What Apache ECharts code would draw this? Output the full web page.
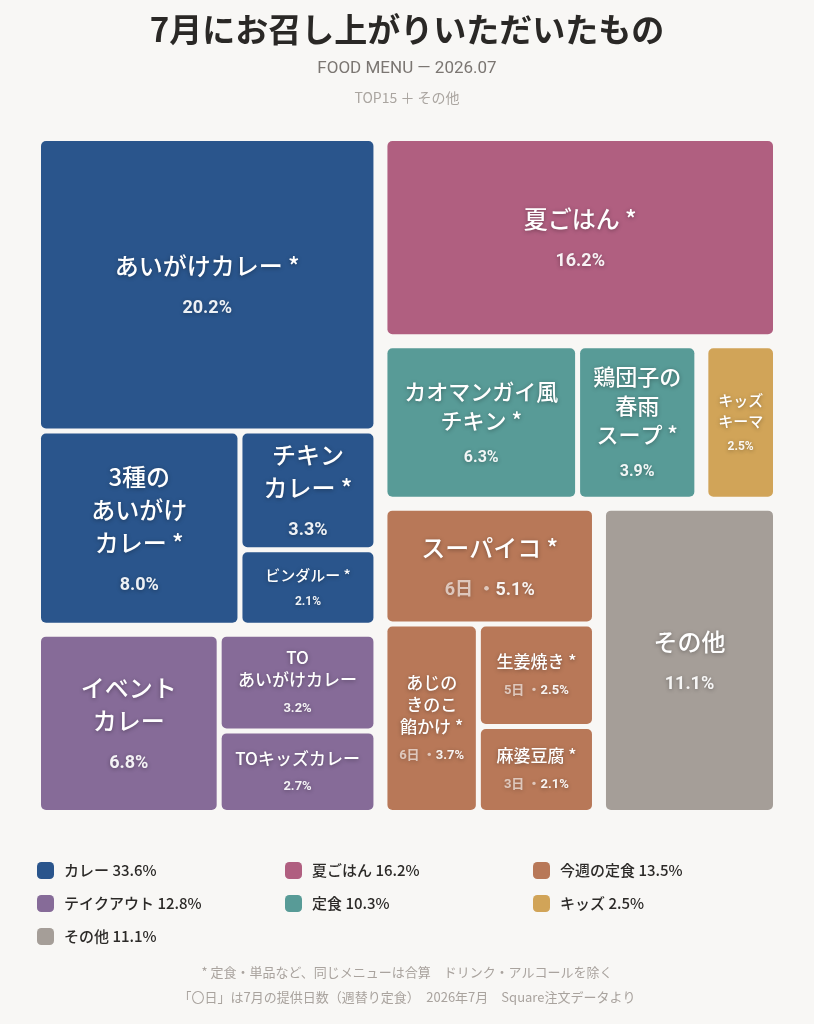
<!DOCTYPE html>
<html>
<head>
<meta charset="utf-8">
<title>7月にお召し上がりいただいたもの</title>
<script src="https://cdn.jsdelivr.net/npm/echarts@6/dist/echarts.min.js"></script>
<style>
html, body { margin: 0; padding: 0; background: #f8f7f5; }
#main { width: 814px; height: 1024px; }
</style>
</head>
<body>
<div id="main"></div>
<script>
// menu groups, in legend order
var groupNames  = ['カレー', '夏ごはん', '今週の定食', 'テイクアウト', '定食', 'キッズ', 'その他'];
var groupShares = [33.6, 16.2, 13.5, 12.8, 10.3, 2.5, 11.1];
var groupColors = ['#2a558c', '#b05f80', '#b87858', '#866b98', '#589b97', '#d1a458', '#a59e98'];

// top 15 items + その他
var itemNames  = ['あいがけカレー', '3種のあいがけカレー', 'チキンカレー', 'ビンダルー',
                  '夏ごはん',
                  'スーパイコ', 'あじのきのこ餡かけ', '生姜焼き', '麻婆豆腐',
                  'イベントカレー', 'TOあいがけカレー', 'TOキッズカレー',
                  'カオマンガイ風チキン', '鶏団子の春雨スープ',
                  'キッズキーマ',
                  'その他'];
var itemLabels = ['あいがけカレー *', '3種の\nあいがけ\nカレー *', 'チキン\nカレー *', 'ビンダルー *',
                  '夏ごはん *',
                  'スーパイコ *', 'あじの\nきのこ\n餡かけ *', '生姜焼き *', '麻婆豆腐 *',
                  'イベント\nカレー', 'TO\nあいがけカレー', 'TOキッズカレー',
                  'カオマンガイ風\nチキン *', '鶏団子の\n春雨\nスープ *',
                  'キッズ\nキーマ',
                  'その他'];
var itemShares = [20.2, 8.0, 3.3, 2.1, 16.2, 5.1, 3.7, 2.5, 2.1, 6.8, 3.2, 2.7, 6.3, 3.9, 2.5, 11.1];
var itemDays   = [null, null, null, null, null, 6, 6, 5, 3, null, null, null, null, null, null, null];
var itemGroups = ['カレー', 'カレー', 'カレー', 'カレー',
                  '夏ごはん',
                  '今週の定食', '今週の定食', '今週の定食', '今週の定食',
                  'テイクアウト', 'テイクアウト', 'テイクアウト',
                  '定食', '定食',
                  'キッズ',
                  'その他'];

// how groups are nested (left column / right column with rows)
var blocks = [['カレー', 'テイクアウト'], ['夏ごはん', ['定食', 'キッズ'], ['今週の定食', 'その他']]];

var footNotes = ['* 定食・単品など、同じメニューは合算　ドリンク・アルコールを除く',
                 '「〇日」は7月の提供日数（週替り定食）　2026年7月　Square注文データより'];

// label size class per item (default l)
var labelSize = {
	'ビンダルー': 'xs', 'キッズキーマ': 'xs',
	'あじのきのこ餡かけ': 's', '生姜焼き': 's', '麻婆豆腐': 's',
	'TOあいがけカレー': 's', 'TOキッズカレー': 's',
	'カオマンガイ風チキン': 'm', '鶏団子の春雨スープ': 'm'
};

var JP = '"Noto Sans CJK JP", sans-serif';
var NUM = 'Roboto, "Noto Sans CJK JP", sans-serif';
var BG = '#f8f7f5';

function leaf(i){
	var g = groupNames.indexOf(itemGroups[i]);
	return {
		name: itemNames[i],
		value: itemShares[i],
		lbl: itemLabels[i],
		days: itemDays[i],
		size: labelSize[itemNames[i]] || 'l',
		itemStyle: { color: groupColors[g], borderRadius: 5, borderWidth: 0 }
	};
}

function groupNode(name){
	var children = [];
	itemGroups.forEach(function(gn, i){
		if(gn == name){
			children.push(leaf(i));
		}
	});
	return {
		name: name,
		children: children,
		itemStyle: { gapWidth: 5, borderWidth: 0, borderColor: 'rgba(0,0,0,0)' }
	};
}

function block(b){
	if(typeof b == 'string'){
		return groupNode(b);
	}
	return {
		name: '',
		children: b.map(block),
		itemStyle: { gapWidth: 14, borderWidth: 0, borderColor: 'rgba(0,0,0,0)' }
	};
}

var treeData = blocks.map(block);

var sizes = {
	l:  { n: 24, nl: 33, g: 15, p: 18, pl: 22 },
	m:  { n: 22, nl: 29, g: 13, p: 16, pl: 20 },
	s:  { n: 17, nl: 22, g: 9,  p: 13, pl: 18 },
	xs: { n: 15, nl: 21, g: 8,  p: 12, pl: 16 }
};
var rich = {};
Object.keys(sizes).forEach(function(k){
	var s = sizes[k];
	rich['n_' + k] = { fontFamily: JP, fontSize: s.n, lineHeight: s.nl, fontWeight: 500, color: '#ffffff' };
	rich['g_' + k] = { fontSize: 1, lineHeight: s.g };
	rich['p_' + k] = { fontFamily: NUM, fontSize: s.p, lineHeight: s.pl, fontWeight: 'bold', color: 'rgba(255,255,255,0.92)' };
	rich['d_' + k] = { fontFamily: NUM, fontSize: s.p, lineHeight: s.pl, fontWeight: 'bold', color: 'rgba(255,255,255,0.62)' };
});

function labelText(params){
	var d = params.data;
	if(!d || d.lbl == null){
		return '';
	}
	var k = d.size;
	var lines = d.lbl.split('\n').map(function(t){
		return '{n_' + k + '|' + t + '}';
	});
	var pct = '{p_' + k + '|' + d.value.toFixed(1) + '%}';
	if(d.days){
		pct = '{d_' + k + '|' + d.days + '日 ・}' + pct;
	}
	return lines.join('\n') + '\n{g_' + k + '| }\n' + pct;
}

// height of the rich text block, from the line heights of its tags
function textHeight(text){
	if(!text){
		return 0;
	}
	var h = 0;
	text.split('\n').forEach(function(line){
		var lh = 0;
		line.replace(/\{(\w+)\|/g, function(m, tag){
			if(rich[tag] && rich[tag].lineHeight > lh){
				lh = rich[tag].lineHeight;
			}
			return m;
		});
		h += lh;
	});
	return h;
}

var myChart = echarts.init(document.getElementById('main'));
var option = {
	backgroundColor: BG,
	animation: false,
	title: [
		{
			text: '7月にお召し上がりいただいたもの', left: 'center', top: 13, padding: 0,
			textStyle: { fontFamily: JP, fontSize: 33, fontWeight: 'bold', color: '#2a2826' }
		},
		{
			text: 'FOOD MENU — 2026.07', left: 'center', top: 60, padding: 0,
			textStyle: { fontFamily: NUM, fontSize: 17, fontWeight: 'normal', color: '#7b7672' }
		},
		{
			text: 'TOP15 ＋ その他', left: 'center', top: 91, padding: 0,
			textStyle: { fontFamily: JP, fontSize: 14, fontWeight: 'normal', color: '#aaa5a0' }
		},
		{
			text: footNotes[0], left: 'center', top: 966, padding: 0,
			textStyle: { fontFamily: JP, fontSize: 13, fontWeight: 'normal', color: '#a9a39e' }
		},
		{
			text: footNotes[1], left: 'center', top: 991, padding: 0,
			textStyle: { fontFamily: JP, fontSize: 13, fontWeight: 'normal', color: '#a9a39e' }
		}
	],
	legend: {
		data: groupNames,
		orient: 'horizontal',
		left: 37, top: 859, width: 760, padding: 0,
		itemWidth: 17, itemHeight: 17, itemGap: 10,
		icon: 'roundRect',
		selectedMode: false,
		formatter: function(name){
			return name + ' ' + groupShares[groupNames.indexOf(name)].toFixed(1) + '%';
		},
		textStyle: {
			fontFamily: JP, fontSize: 15, fontWeight: 500, color: '#2c2a28', lineHeight: 23,
			width: 211, padding: [0, 0, 0, 5]
		}
	},
	series: [
		{
			type: 'treemap',
			left: 41, top: 141, width: 732, height: 669,
			sort: false,
			squareRatio: 1,
			roam: false,
			nodeClick: false,
			breadcrumb: { show: false },
			itemStyle: { borderWidth: 0, gapWidth: 14, borderColor: 'rgba(0,0,0,0)' },
			upperLabel: { show: false },
			label: {
				show: true,
				position: 'inside',
				padding: 0,
				overflow: 'none',
				align: 'center',
				color: '#ffffff',
				textShadowColor: 'rgba(0,0,0,0.35)',
				textShadowBlur: 4,
				textShadowOffsetY: 1,
				formatter: labelText,
				rich: rich
			},
			// treemap puts the text block at the top of the cell; push it to the middle
			labelLayout: function(params){
				var h = textHeight(params.text);
				return { dy: Math.max((params.rect.height - h) / 2, 0) };
			},
			emphasis: { disabled: true },
			data: treeData
		},
		{
			// only feeds the legend
			type: 'pie',
			radius: [0, 0],
			center: [-200, -200],
			silent: true,
			label: { show: false },
			labelLine: { show: false },
			data: groupNames.map(function(n, i){
				return { name: n, value: groupShares[i], itemStyle: { color: groupColors[i] } };
			})
		}
	]
};
myChart.setOption(option);
</script>
</body>
</html>
